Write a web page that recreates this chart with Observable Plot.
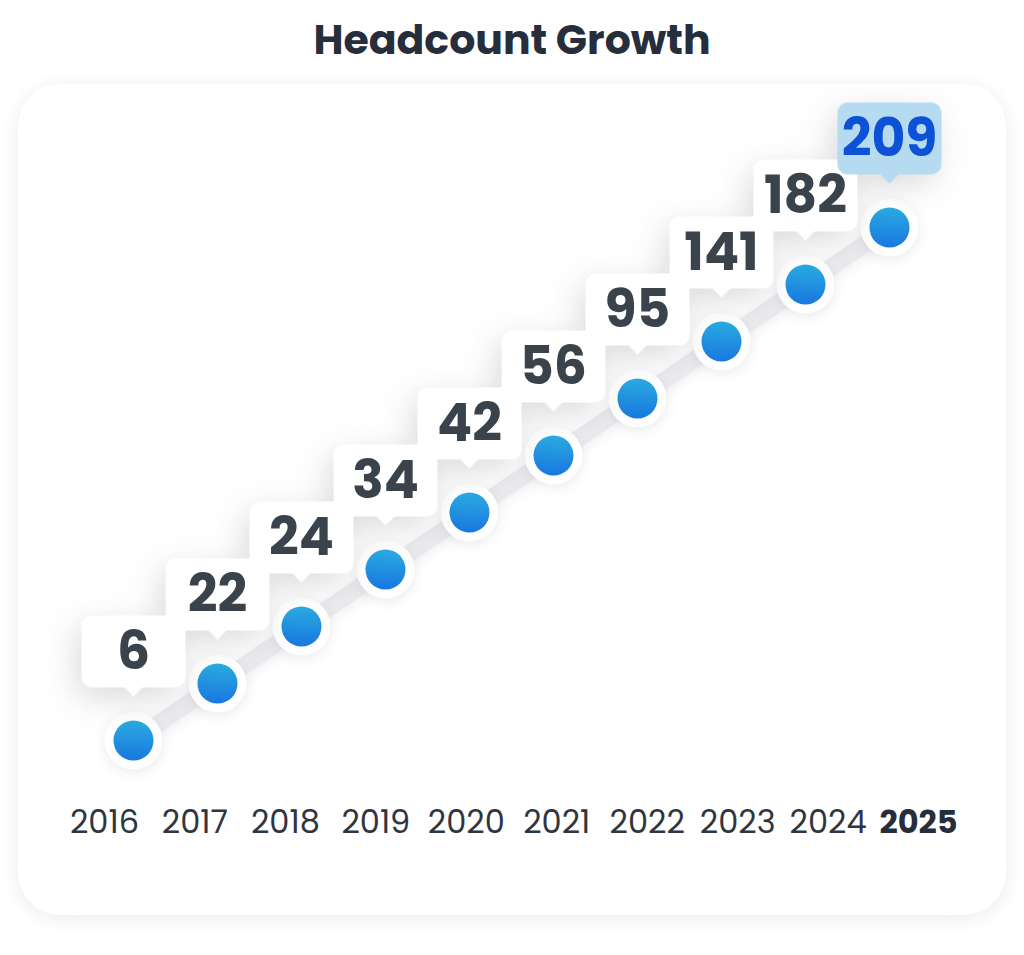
<!DOCTYPE html>
<html>
<head>
<meta charset="utf-8">
<script src="https://cdn.jsdelivr.net/npm/d3@7"></script>
<script src="https://cdn.jsdelivr.net/npm/@observablehq/plot@0.6"></script>
<style>
  html, body { margin: 0; padding: 0; background: #ffffff; }
  body { width: 1024px; height: 955px; position: relative; overflow: hidden; font-family: "Poppins", "Open Sans", sans-serif; }
  #title { position: absolute; top: 9px; left: 0; width: 1024px; text-align: center; font-size: 41px; font-weight: 700; color: #262d3b; }
  #card { position: absolute; left: 18px; top: 84px; width: 988px; height: 831px; border-radius: 42px; background: #fff; box-shadow: 0 3px 18px rgba(40, 45, 60, 0.09); }
  #main { position: absolute; left: 0; top: 90px; }
  #years { position: absolute; left: 0; top: 795px; }
  #main svg, #years svg { overflow: visible; background: transparent; }
</style>
</head>
<body>
<svg width="0" height="0" style="position:absolute">
  <defs>
    <linearGradient id="dotGrad" x1="0" y1="0" x2="0" y2="1">
      <stop offset="0%" stop-color="#2bace2"/>
      <stop offset="100%" stop-color="#1877df"/>
    </linearGradient>
  </defs>
</svg>
<div id="title">Headcount Growth</div>
<div id="card"></div>
<div id="main"></div>
<div id="years"></div>
<script>
const years = [2016, 2017, 2018, 2019, 2020, 2021, 2022, 2023, 2024, 2025];
const headcount = [6, 22, 24, 34, 42, 56, 95, 141, 182, 209];
const highlightYear = 2025;

const rows = years.map((year, i) => ({year, count: headcount[i]}));

// Callout shape: rounded box with a pointer underneath, centred on the symbol origin
const callout = {
  draw(ctx) {
    const w = 52, h = 36, r = 10, t = 9;
    ctx.moveTo(-w + r, -h);
    ctx.lineTo(w - r, -h);
    ctx.arcTo(w, -h, w, -h + r, r);
    ctx.lineTo(w, h - r);
    ctx.arcTo(w, h, w - r, h, r);
    ctx.lineTo(t, h);
    ctx.lineTo(0, h + t);
    ctx.lineTo(-t, h);
    ctx.lineTo(-w + r, h);
    ctx.arcTo(-w, h, -w, h - r, r);
    ctx.lineTo(-w, -h + r);
    ctx.arcTo(-w, -h, -w + r, -h, r);
    ctx.closePath();
  }
};

const main = Plot.plot({
  width: 1024,
  height: 700,
  marginLeft: 133,
  marginRight: 135,
  marginTop: 136,
  marginBottom: 49,
  x: {type: "linear", domain: [years[0], years[years.length - 1]], axis: null},
  y: {type: "point", domain: headcount, padding: 0, reverse: true, axis: null},
  color: {type: "identity"},
  marks: [
    Plot.line(rows, {x: "year", y: "count", stroke: "#ebebef", strokeWidth: 17, strokeLinejoin: "round"}),
    Plot.dot(rows, {x: "year", y: "count", r: 29, fill: "white"}),
    Plot.dot(rows, {x: "year", y: "count", r: 20, fill: "url(#dotGrad)"}),
    Plot.dot(rows, {x: "year", y: "count", r: 1, symbol: callout, dy: -89, stroke: null,
      fill: d => d.year === highlightYear ? "#b6dbf1" : "#ffffff"}),
    Plot.text(rows, {x: "year", y: "count", text: d => String(d.count), dy: -88,
      fontSize: 52, fontWeight: 700, fontFamily: "Poppins, 'Open Sans', sans-serif",
      fill: d => d.year === highlightYear ? "#0d52d6" : "#3a434c"})
  ]
});
// soft shadows on the line, halos and callouts
const lineGroup = main.querySelector('g[aria-label="line"]');
if (lineGroup) lineGroup.style.filter = "drop-shadow(0px 4px 6px rgba(30, 35, 50, 0.06))";
const dotGroups = main.querySelectorAll('g[aria-label="dot"]');
if (dotGroups[0]) dotGroups[0].style.filter = "drop-shadow(0px 3px 6px rgba(30, 35, 50, 0.09))";
if (dotGroups[2]) dotGroups[2].style.filter = "drop-shadow(-6px 10px 16px rgba(30, 35, 50, 0.16))";
document.getElementById("main").appendChild(main);

const yearAxis = Plot.plot({
  width: 1024,
  height: 54,
  marginLeft: 104,
  marginRight: 106,
  marginTop: 0,
  marginBottom: 0,
  x: {type: "linear", domain: [years[0], years[years.length - 1]], axis: null},
  marks: [
    Plot.text(years.filter(y => y !== highlightYear), {x: d => d, text: d => String(d), frameAnchor: "middle",
      fontSize: 32, fontWeight: 400, fill: "#2f3541", fontFamily: "Poppins, 'Open Sans', sans-serif"}),
    Plot.text(years.filter(y => y === highlightYear), {x: d => d, text: d => String(d), frameAnchor: "middle",
      fontSize: 32, fontWeight: 700, fill: "#262d3b", fontFamily: "Poppins, 'Open Sans', sans-serif"})
  ]
});
document.getElementById("years").appendChild(yearAxis);
</script>
</body>
</html>
